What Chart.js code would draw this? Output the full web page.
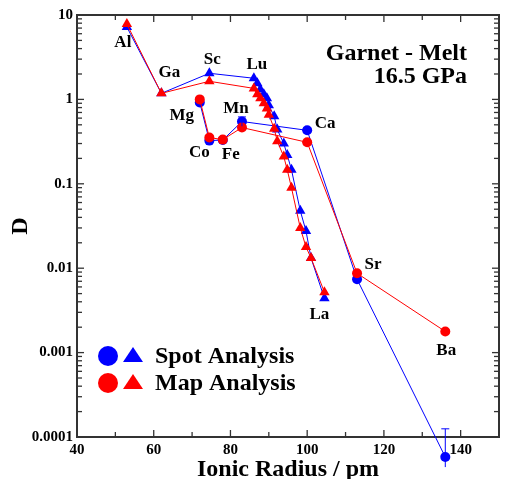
<!DOCTYPE html>
<html>
<head>
<meta charset="utf-8">
<title>Garnet - Melt, 16.5 GPa</title>
<script src="https://cdn.jsdelivr.net/npm/chart.js@4.4.1/dist/chart.umd.min.js"></script>
<style>
  html, body { margin: 0; padding: 0; background: #fff; }
  #wrap { width: 505px; height: 479px; }
  .preload { position: absolute; left: -999px; top: 0; font: bold 20px "Liberation Serif", "DejaVu Serif", serif; }
</style>
</head>
<body>
<span class="preload">Garnet Spot Map 0.0001</span>
<div id="wrap"><canvas id="chart" width="505" height="479"></canvas></div>
<script>
// Trivalent cations (triangles): Al, Ga, Sc, then the REE from Lu to La
const triRadius = [53, 62, 74.5, 86.1, 87.0, 87.8, 88.7, 89.5, 90.0, 91.4, 92.2, 93.9, 94.8, 95.9, 98.2, 99.7, 101.0, 104.5];
const triLabels = ['Al', 'Ga', 'Sc', 'Lu', '', '', '', '', '', '', '', '', '', '', '', '', '', 'La'];
const triSpot = [7.2, 1.18, 2.04, 1.78, 1.55, 1.31, 1.15, 1.03, 0.85, 0.63, 0.44, 0.30, 0.22, 0.147, 0.048, 0.0275, 0.0132, 0.0044];
const triMap = [7.8, 1.18, 1.64, 1.35, 1.15, 1.03, 0.90, 0.78, 0.66, 0.45, 0.32, 0.21, 0.147, 0.090, 0.030, 0.0178, 0.0132, 0.0052];

// Divalent cations (circles)
const circRadius = [72, 74.5, 78, 83, 100, 113, 136];
const circLabels = ['Mg', 'Co', 'Fe', 'Mn', 'Ca', 'Sr', 'Ba'];
const circSpot = [0.92, 0.325, 0.33, 0.547, 0.43, 0.0074, 0.000058];
const circMap = [1.0, 0.353, 0.334, 0.464, 0.31, 0.0087, 0.00178];
// error bars on the spot analyses (null = hidden under the marker)
const circSpotHigh = [null, null, null, 0.62, 0.46, null, 0.000125];
const circSpotLow = [null, null, null, 0.48, 0.40, null, 0.000044];

// Axes
const xMin = 40, xMax = 150;
const xTicks = [40, 60, 80, 100, 120, 140];
const yMin = 0.0001, yMax = 10;
const yTicks = [0.0001, 0.001, 0.01, 0.1, 1, 10];

const BLUE = '#0000ff';
const RED = '#ff0000';
const AXIS = '#333333';
const SERIF = '"Liberation Serif", "DejaVu Serif", serif';

// where each element name sits relative to its (map) marker
const labelOffsets = {
    Al: [-4, 19], Ga: [8, -21], Sc: [3, -22], Lu: [3, -24], La: [-5, 22],
    Mg: [-18, 16], Co: [-10, 15], Fe: [8, 15], Mn: [-6, -19], Ca: [18, -19],
    Sr: [16, -9], Ba: [1, 19]
};

const toPoints = (xs, ys) => xs.map((x, i) => ({ x: x, y: ys[i] }));

function series(label, xs, ys, color, style, radius) {
    return {
        label: label,
        data: toPoints(xs, ys),
        showLine: true,
        borderColor: color,
        backgroundColor: color,
        borderWidth: 1,
        pointStyle: style,
        pointRadius: radius,
        pointBorderWidth: 0,
        pointBackgroundColor: color,
        clip: false
    };
}

// inward ticks on all four sides plus the frame
const frameTicks = {
    id: 'frameTicks',
    beforeDatasetsDraw(chart) {
        const { ctx, chartArea: a, scales: { x, y } } = chart;
        ctx.save();
        ctx.strokeStyle = AXIS;
        ctx.lineWidth = 1.3;
        const seg = (x1, y1, x2, y2) => {
            ctx.beginPath();
            ctx.moveTo(x1, y1);
            ctx.lineTo(x2, y2);
            ctx.stroke();
        };
        for (let v = xMin; v <= xMax; v += 10) {
            const px = x.getPixelForValue(v);
            const len = xTicks.includes(v) ? 7 : 5;
            seg(px, a.bottom, px, a.bottom - len);
            seg(px, a.top, px, a.top + len);
        }
        for (let e = -4; e <= 1; e++) {
            for (let m = 1; m <= 9; m++) {
                const v = m * Math.pow(10, e);
                if (v < yMin * 0.999 || v > yMax * 1.001) continue;
                const py = y.getPixelForValue(v);
                const len = m === 1 ? 7 : 5;
                seg(a.left, py, a.left + len, py);
                seg(a.right, py, a.right - len, py);
            }
        }
        ctx.lineWidth = 2;
        ctx.strokeRect(a.left, a.top, a.right - a.left, a.bottom - a.top);
        ctx.restore();
    }
};

// error bars on the spot circles, and markers that fall below the axis
const errorBars = {
    id: 'errorBars',
    afterDatasetsDraw(chart) {
        const { ctx, chartArea: a, scales: { y } } = chart;
        const meta = chart.getDatasetMeta(3);
        ctx.save();
        ctx.strokeStyle = BLUE;
        ctx.lineWidth = 1;
        meta.data.forEach((pt, i) => {
            if (circSpotHigh[i] == null) return;
            const top = y.getPixelForValue(circSpotHigh[i]);
            const bot = y.getPixelForValue(circSpotLow[i]);
            ctx.beginPath();
            ctx.moveTo(pt.x, top);
            ctx.lineTo(pt.x, bot);
            ctx.moveTo(pt.x - 4, top);
            ctx.lineTo(pt.x + 4, top);
            ctx.stroke();
        });
        // Chart.js skips points outside the chart area, so draw those here
        meta.data.forEach((pt) => {
            if (pt.y > a.bottom) pt.draw(ctx);
        });
        ctx.restore();
    }
};

// element names, annotation and legend
const annotations = {
    id: 'annotations',
    afterDraw(chart) {
        const { ctx } = chart;
        ctx.save();
        ctx.fillStyle = '#000';
        ctx.textAlign = 'center';
        ctx.textBaseline = 'middle';
        ctx.font = 'bold 17px ' + SERIF;
        const names = [[0, triLabels], [1, circLabels]];
        names.forEach(([idx, labels]) => {
            const meta = chart.getDatasetMeta(idx);
            labels.forEach((name, i) => {
                if (!name) return;
                const off = labelOffsets[name];
                const pt = meta.data[i];
                ctx.fillText(name, pt.x + off[0], pt.y + off[1]);
            });
        });

        ctx.font = 'bold 24px ' + SERIF;
        ctx.textAlign = 'right';
        ctx.textBaseline = 'alphabetic';
        ctx.fillText('Garnet - Melt', 467, 60);
        ctx.fillText('16.5 GPa', 467, 83);

        // legend
        const rows = [['Spot Analysis', BLUE, 356], ['Map Analysis', RED, 383]];
        rows.forEach(([text, color, cy]) => {
            ctx.fillStyle = color;
            ctx.beginPath();
            ctx.arc(108, cy, 10, 0, Math.PI * 2);
            ctx.fill();
            ctx.beginPath();
            ctx.moveTo(133, cy - 9);
            ctx.lineTo(143, cy + 6);
            ctx.lineTo(123, cy + 6);
            ctx.closePath();
            ctx.fill();
            ctx.fillStyle = '#000';
            ctx.textAlign = 'left';
            ctx.fillText(text, 155, cy + 7);
        });
        ctx.restore();
    }
};

function drawChart() {
    const ctx = document.getElementById('chart').getContext('2d');
    new Chart(ctx, {
        type: 'scatter',
        data: {
            datasets: [
                series('Map Analysis', triRadius, triMap, RED, 'triangle', 6),
                series('Map Analysis', circRadius, circMap, RED, 'circle', 5),
                series('Spot Analysis', triRadius, triSpot, BLUE, 'triangle', 6),
                series('Spot Analysis', circRadius, circSpot, BLUE, 'circle', 5)
            ]
        },
        options: {
            responsive: false,
            animation: false,
            events: [],
            layout: { padding: { top: 15, right: 1, left: 0, bottom: 0 } },
            plugins: {
                legend: { display: false },
                tooltip: { enabled: false }
            },
            scales: {
                x: {
                    type: 'linear',
                    min: xMin,
                    max: xMax,
                    grid: { display: false, drawTicks: false },
                    border: { display: false },
                    afterBuildTicks: (scale) => { scale.ticks = xTicks.map(v => ({ value: v })); },
                    afterFit: (scale) => { scale.height = 42; },
                    ticks: {
                        padding: 4,
                        color: '#000',
                        font: { family: SERIF, size: 15, weight: 'bold' }
                    },
                    title: {
                        display: true,
                        text: 'Ionic Radius / pm',
                        color: '#000',
                        font: { family: SERIF, size: 24, weight: 'bold' },
                        padding: { top: 0, bottom: -5 }
                    }
                },
                y: {
                    type: 'logarithmic',
                    min: yMin,
                    max: yMax,
                    grid: { display: false, drawTicks: false },
                    border: { display: false },
                    afterBuildTicks: (scale) => { scale.ticks = yTicks.map(v => ({ value: v })); },
                    afterFit: (scale) => { scale.width = 77; },
                    ticks: {
                        padding: 4,
                        color: '#000',
                        font: { family: SERIF, size: 15, weight: 'bold' },
                        callback: (v) => String(v)
                    },
                    title: {
                        display: true,
                        text: 'D',
                        color: '#000',
                        font: { family: SERIF, size: 24, weight: 'bold' },
                        padding: { top: 6, bottom: 0 }
                    }
                }
            }
        },
        plugins: [frameTicks, errorBars, annotations]
    });
}

// make sure the serif face is ready before the canvas text is drawn
if (document.fonts && document.fonts.load) {
    document.fonts.load('bold 20px "Liberation Serif"').then(drawChart, drawChart);
} else {
    drawChart();
}
</script>
</body>
</html>
